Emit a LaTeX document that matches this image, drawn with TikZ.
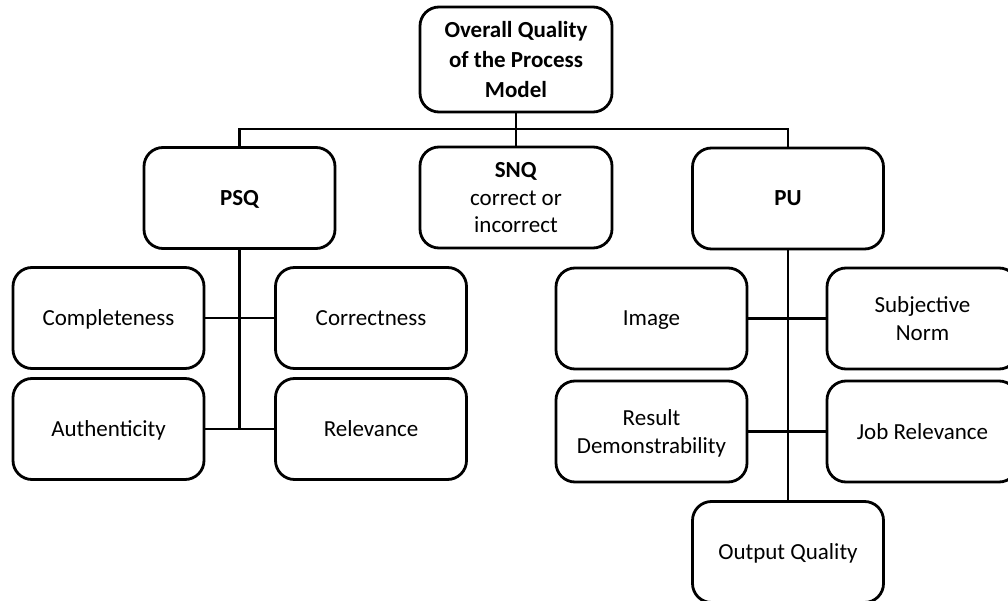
\documentclass[tikz,border=0pt]{standalone}
\usepackage{fontspec}
\setmainfont{Carlito}
\begin{document}
\begin{tikzpicture}[x=1pt,y=-1pt,
  box/.style={draw=black, line width=2.8pt, rounded corners=19pt, fill=white,
    minimum width=191pt, minimum height=101pt, inner sep=2pt, align=center,
    text depth=0pt, font=\fontsize{23}{27.5}\selectfont},
  head/.style={box, font=\fontsize{23}{30}\selectfont\bfseries},
  link/.style={draw=black, line width=2.8pt}]
\useasboundingbox (0,0) rectangle (1008,601);
\clip (0,0) rectangle (1008,601);
\fill[white] (0,0) rectangle (1008,601);

% junction points on the connector lines
\coordinate (barL) at (239.5,129);
\coordinate (barM) at (516,129);
\coordinate (barR) at (788,129);
\coordinate (psqB) at (239.5,429.5);

% nodes
\node[head, minimum width=192pt, minimum height=105pt] (top) at (516,59.5) {Overall Quality\\of the Process\\Model};
\node[head] (psq) at (239.5,198) {PSQ};
\node[box, minimum width=192pt] (snq) at (516,197.5) {\textbf{SNQ}\\correct or\\incorrect};
\node[head] (pu) at (788,198.5) {PU};

\node[box] (compl) at (108.5,318) {Completeness};
\node[box] (corr) at (371,318) {Correctness};
\node[box] (auth) at (108.5,429) {Authenticity};
\node[box] (rel) at (371,429) {Relevance};

\node[box] (img) at (651.5,318.5) {Image};
\node[box] (norm) at (922.5,318.5) {Subjective\\Norm};
\node[box] (res) at (651.5,431.5) {Result\\Demonstrability};
\node[box] (job) at (922.5,431.5) {Job Relevance};
\node[box] (out) at (788,552) {Output Quality};

% connectors
\draw[link] (top.south) -- (barM) -- (snq.north);
\draw[link] (psq.north) -- (barL) -- (barR) -- (pu.north);
\draw[link] (psq.south) -- (psqB);
\draw[link] (compl.east) -- (corr.west);
\draw[link] (auth.east) -- (rel.west);
\draw[link] (pu.south) -- (out.north);
\draw[link] (img.east) -- (norm.west);
\draw[link] (res.east) -- (job.west);
\end{tikzpicture}
\end{document}
